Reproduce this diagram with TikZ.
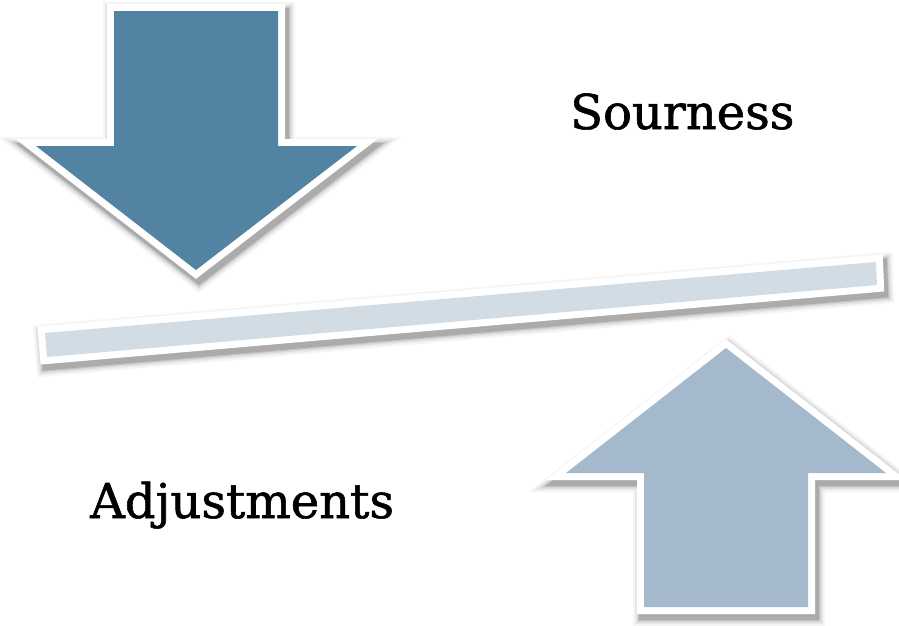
\documentclass[tikz,border=0pt]{standalone}
\usepackage{fontspec}
\newfontfamily\labelfont[FakeBold=1.2]{DejaVu Serif}
\definecolor{darkarrow}{RGB}{82,131,163}
\definecolor{lightarrow}{RGB}{165,185,205}
\definecolor{barcol}{RGB}{210,220,228}
\tikzset{
  shadowed/.style={
    line join=miter,
    preaction={draw=black, draw opacity=0.04, line width=28pt, transform canvas={shift={(3pt,-5pt)}}},
    preaction={draw=black, draw opacity=0.05, line width=24pt, transform canvas={shift={(3pt,-5pt)}}},
    preaction={draw=black, draw opacity=0.07, line width=21pt, transform canvas={shift={(3pt,-5pt)}}},
    preaction={draw=black, draw opacity=0.10, line width=18pt, transform canvas={shift={(3pt,-5pt)}}},
    preaction={draw=black, draw opacity=0.12, line width=16pt, transform canvas={shift={(3pt,-5pt)}}},
    preaction={draw=white, line width=14pt}
  },
  lbl/.style={font=\labelfont\fontsize{48}{56}\selectfont, inner sep=0pt, anchor=base west}
}
\begin{document}
\begin{tikzpicture}[x=1pt,y=-1pt]
\useasboundingbox (0,0) rectangle (899,625);
% bar
\path[shadowed, fill=barcol] (45,333) -- (876,262) -- (877,285) -- (47,357) -- cycle;
% down arrow
\path[shadowed, fill=darkarrow] (114,11) -- (278,11) -- (278,146) -- (357,146) -- (196,270) -- (36,146) -- (114,146) -- cycle;
% up arrow
\path[shadowed, fill=lightarrow] (644,607) -- (808,607) -- (808,473) -- (886,473) -- (726,348) -- (566,473) -- (644,473) -- cycle;
\node[lbl] (sour) at (570,129) {Sourness};
\node[lbl] (adj) at (90,518) {Adjustments};
\end{tikzpicture}
\end{document}
